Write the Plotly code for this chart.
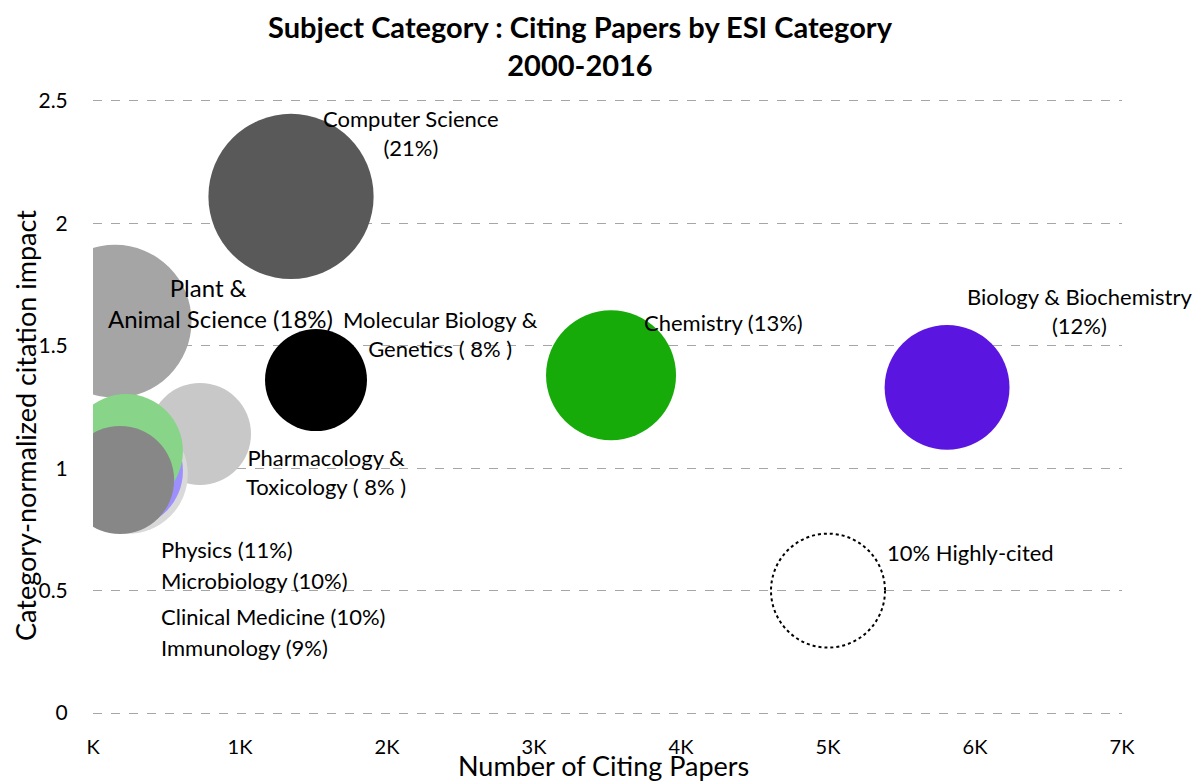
import math
import plotly.graph_objects as go

# ---- data ----
categories = ["Computer Science", "Plant & Animal Science", "Molecular Biology & Genetics",
              "Chemistry", "Biology & Biochemistry", "Pharmacology & Toxicology",
              "Physics", "Microbiology", "Clinical Medicine", "Immunology"]
citing_papers = [1347, 150, 1517, 3524, 5810, 728, 238, 224, 224, 184]
citation_impact = [2.11, 1.60, 1.36, 1.38, 1.33, 1.14, 0.976, 0.989, 1.07, 0.952]
highly_cited_pct = [21, 18, 8, 13, 12, 8, 11, 10, 10, 9]

ref_x, ref_y, ref_pct = [5000], [0.5], [10]

x_tickvals = [0, 1000, 2000, 3000, 4000, 5000, 6000, 7000]
x_ticktext = ["K", "1K", "2K", "3K", "4K", "5K", "6K", "7K"]
y_tickvals = [0, 0.5, 1, 1.5, 2, 2.5]
y_ticktext = ["0", "0.5", "1", "1.5", "2", "2.5"]

# ---- styles ----
colors = ["#595959", "#a5a5a5", "#000000", "#17ab0a", "#5a16e0", "#c8c8c8",
          "#d9d9d9", "#9e8fff", "#88d488", "#878787"]
FONT = "Lato"
SIZEREF = 10 / (2 * 57 ** 2)  # 10% bubble -> 57 px radius

fig = go.Figure()
fig.add_trace(go.Scatter(
    x=citing_papers, y=citation_impact, mode="markers",
    text=categories, hoverinfo="text",
    marker=dict(size=highly_cited_pct, sizemode="area", sizeref=SIZEREF,
                color=colors, opacity=1, line=dict(width=0)),
    showlegend=False,
))

# reference dotted circle (10% highly cited)
r_ref = math.sqrt(ref_pct[0] / (2 * SIZEREF))
fig.add_shape(type="circle", xref="x", yref="y", xsizemode="pixel", ysizemode="pixel",
              xanchor=ref_x[0], yanchor=ref_y[0], x0=-r_ref, x1=r_ref, y0=-r_ref, y1=r_ref,
              line=dict(color="black", width=2, dash="dot"), fillcolor="rgba(0,0,0,0)")

# labels
labels = [
    ("Computer Science<br>(21%)", 2163, 2.37, 22),
    ("Plant &\u00a0\u00a0\u00a0\u00a0<br>Animal Science (18%)", 864, 1.673, 24),
    ("Molecular Biology &<br>Genetics ( 8% )", 2361, 1.548, 22),
    ("Chemistry (13%)", 4286, 1.597, 22),
    ("Biology & Biochemistry<br>(12%)", 6714, 1.644, 22),
    ("Pharmacology &<br>Toxicology ( 8% )", 1585, 0.9865, 22),
]
for txt, lx, ly, fs in labels:
    fig.add_annotation(x=lx, y=ly, text=txt, showarrow=False, xanchor="center",
                       yanchor="middle", align="center", font=dict(size=fs, color="black"))
left_labels = [("Physics (11%)", 0.670), ("Microbiology (10%)", 0.543),
               ("Clinical Medicine (10%)", 0.396), ("Immunology (9%)", 0.266)]
for txt, ly in left_labels:
    fig.add_annotation(x=449, y=ly, text=txt, showarrow=False, xanchor="left",
                       yanchor="middle", font=dict(size=22, color="black"))
fig.add_annotation(x=5388, y=0.654, text="10% Highly-cited", showarrow=False,
                   xanchor="left", yanchor="middle", font=dict(size=22, color="black"))

# plot area: x 93..1122 px, y 99..715 px
PL, PW, PB, PH = 93, 1029, 715, 616
fig.add_annotation(text="Number of Citing Papers", xref="paper", yref="paper",
                   x=(603 - PL) / PW, y=-(765 - PB) / PH, xanchor="center", yanchor="middle",
                   showarrow=False, font=dict(size=27, color="black"))
fig.add_annotation(text="Category-normalized citation impact", xref="paper", yref="paper",
                   x=(25 - PL) / PW, y=(PB - 426) / PH, xanchor="center", yanchor="middle",
                   textangle=-90, showarrow=False, font=dict(size=27, color="black"))

fig.update_layout(
    width=1195, height=781,
    margin=dict(l=93, r=73, t=99, b=66, autoexpand=False),
    paper_bgcolor="white", plot_bgcolor="white",
    font=dict(family=FONT, color="black"),
    title=dict(text="<b>Subject Category : Citing Papers by ESI Category<br>2000-2016</b>",
               x=580 / 1195, xanchor="center", yref="container", y=0.951, yanchor="top",
               font=dict(size=29, family=FONT, color="black")),
    xaxis=dict(range=[0, 7000], tickvals=x_tickvals, ticktext=x_ticktext,
               showgrid=False, zeroline=False, showline=False, automargin=False,
               ticks="outside", ticklen=14, tickcolor="rgba(0,0,0,0)",
               tickfont=dict(size=20)),
    yaxis=dict(range=[-0.008, 2.508], tickvals=y_tickvals, ticktext=y_ticktext,
               showgrid=True, gridcolor="#a6a6a6", griddash="dash", gridwidth=1,
               zeroline=False, showline=False, automargin=False,
               ticks="outside", ticklen=20, tickcolor="rgba(0,0,0,0)",
               tickfont=dict(size=21)),
)

fig.write_html("out.html")
